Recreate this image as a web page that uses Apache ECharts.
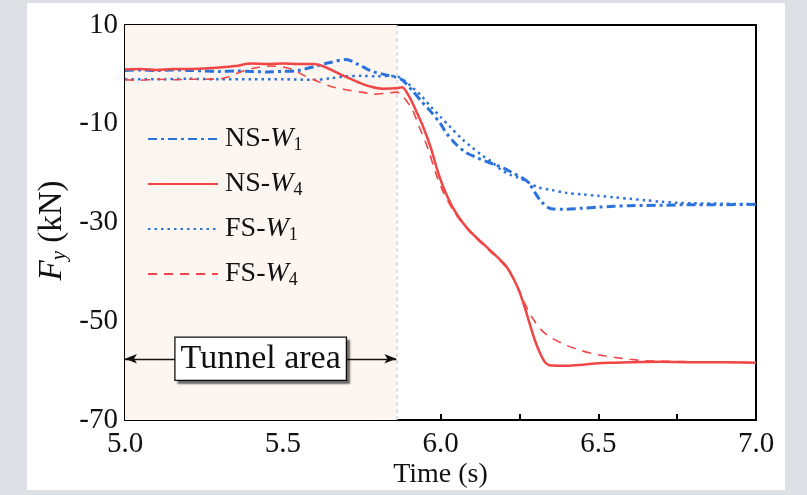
<!DOCTYPE html>
<html><head><meta charset="utf-8">
<script src="https://cdn.jsdelivr.net/npm/echarts/dist/echarts.min.js"></script>
<style>html,body{margin:0;padding:0;background:#dde1e5}#c{width:807px;height:495px}</style>
</head><body><div id="c"></div>
<script>
// ---- data ----
const seriesNames = ['NS-W1', 'NS-W4', 'FS-W1', 'FS-W4'];
const xTicks = [5.0, 5.5, 6.0, 6.5, 7.0];
const yTicks = [-70, -50, -30, -10, 10];

const nsW1_t = [5.00,5.05,5.10,5.15,5.20,5.25,5.30,5.35,5.40,5.45,5.50,5.55,5.60,5.65,5.70,5.74,5.78,5.82,5.86,5.88,5.91,5.94,5.97,6.00,6.02,6.05,6.08,6.12,6.16,6.20,6.23,6.26,6.28,6.30,6.32,6.35,6.40,6.45,6.50,6.55,6.60,6.70,6.80,6.90,7.00];
const nsW1_v = [0.8,0.9,0.8,0.9,0.8,0.7,0.6,0.7,0.6,0.5,0.6,0.8,1.6,2.4,3.0,2.0,0.7,0.0,-0.6,-1.2,-3.2,-5.5,-7.6,-10.0,-12.0,-14.2,-15.8,-17.0,-18.0,-19.0,-20.0,-21.0,-22.0,-24.0,-25.8,-27.2,-27.3,-27.1,-26.9,-26.7,-26.6,-26.5,-26.4,-26.4,-26.3];

const nsW4_t = [5.00,5.05,5.10,5.15,5.20,5.25,5.30,5.35,5.40,5.45,5.50,5.55,5.60,5.63,5.67,5.70,5.74,5.78,5.82,5.86,5.878,5.90,5.92,5.945,5.97,5.99,6.01,6.04,6.07,6.10,6.13,6.16,6.19,6.21,6.23,6.25,6.27,6.285,6.30,6.315,6.33,6.345,6.40,6.45,6.50,6.55,6.60,6.70,6.80,6.90,7.00];
const nsW4_v = [1.0,1.1,0.9,1.1,1.1,1.2,1.4,1.7,2.2,2.1,2.2,2.1,2.1,1.6,0.4,-0.5,-1.6,-2.5,-2.9,-2.8,-2.6,-4.4,-7.0,-10.6,-15.0,-19.4,-23.0,-27.1,-30.0,-32.2,-34.0,-35.8,-37.6,-39.0,-41.2,-44.0,-47.8,-51.0,-54.0,-56.4,-58.2,-58.9,-59.0,-58.8,-58.5,-58.4,-58.3,-58.2,-58.3,-58.3,-58.4];

const fsW1_t = [5.00,5.10,5.20,5.30,5.40,5.50,5.60,5.65,5.70,5.75,5.80,5.84,5.87,5.89,5.91,5.94,5.97,6.00,6.03,6.07,6.10,6.13,6.16,6.19,6.22,6.25,6.28,6.31,6.35,6.40,6.45,6.50,6.55,6.60,6.65,6.70,6.75,6.80,6.90,7.00];
const fsW1_v = [-1.0,-1.0,-0.9,-1.0,-1.0,-1.0,-1.1,-0.8,-0.4,-0.3,-0.4,-0.3,-0.6,-1.5,-2.6,-4.4,-6.6,-8.6,-10.6,-13.2,-14.8,-16.3,-17.6,-19.2,-20.3,-21.0,-21.9,-22.9,-23.4,-24.0,-24.3,-24.6,-24.9,-25.2,-25.5,-25.8,-26.0,-26.1,-26.2,-26.3];

const fsW4_t = [5.00,5.05,5.10,5.15,5.20,5.25,5.30,5.33,5.37,5.42,5.46,5.50,5.53,5.57,5.61,5.65,5.70,5.75,5.79,5.83,5.86,5.875,5.89,5.91,5.935,5.96,5.985,6.01,6.04,6.07,6.10,6.13,6.16,6.19,6.21,6.23,6.25,6.27,6.29,6.32,6.35,6.40,6.45,6.50,6.55,6.60,6.65,6.70,6.80,6.90,7.00];
const fsW4_v = [-1.1,-1.2,-1.0,-1.1,-1.0,-1.0,-0.9,-0.5,0.6,1.4,1.7,1.5,1.0,-0.3,-1.4,-2.4,-3.1,-3.6,-4.0,-3.8,-3.6,-4.0,-5.2,-7.0,-11.0,-15.0,-20.0,-24.0,-27.5,-30.2,-32.4,-34.2,-36.0,-37.8,-39.2,-41.3,-43.8,-46.8,-49.2,-51.8,-53.3,-54.9,-56.0,-56.8,-57.3,-57.7,-58.0,-58.1,-58.2,-58.3,-58.4];

const tunnelRange = [5.0, 5.86];
const tunnelArrowY = -57.6;
const tunnelLabelX = 5.43;
const tunnelLabel = 'Tunnel area';

// ---- chart ----
const zip = (t, v) => t.map((x, i) => [x, v[i]]);
const FONT = 'Liberation Serif, Times New Roman, serif';
const BLUE = '#2c72dc', RED = '#f04646';

const chart = echarts.init(document.getElementById('c'), null, {renderer: 'canvas'});
const legendRich = {
  n: {fontFamily: FONT, fontSize: 28, color: '#111', lineHeight: 30, padding: [0, 0, 0, 2]},
  i: {fontFamily: FONT, fontSize: 28, color: '#111', fontStyle: 'italic', lineHeight: 30},
  s: {fontFamily: FONT, fontSize: 18, color: '#111', lineHeight: 10, verticalAlign: 'bottom'}
};
chart.setOption({
  backgroundColor: '#dde1e5',
  animation: false,
  graphic: [
    {type: 'rect', z: -100, shape: {x: 27, y: 3, width: 758, height: 487}, style: {fill: '#ffffff'}}
  ],
  grid: {left: 125, right: 51, top: 25, bottom: 75, show: true, borderColor: '#000', borderWidth: 2,
    backgroundColor: 'transparent', containLabel: false, outerBoundsMode: 'none'},
  legend: {
    orient: 'vertical', left: 147, top: 125, padding: 0, itemWidth: 70, itemHeight: 14, itemGap: 16,
    data: seriesNames,
    itemStyle: {color: 'transparent', borderColor: 'transparent', borderWidth: 0, opacity: 0},
    formatter: name => { const p = name.split('-'); return '{n|' + p[0] + '-}{i|' + p[1][0] + '}{s|' + p[1].slice(1) + '}'; },
    textStyle: {rich: legendRich}
  },
  xAxis: {
    type: 'value', min: xTicks[0], max: xTicks[xTicks.length - 1], interval: 0.5,
    name: 'Time (s)', nameLocation: 'middle', nameGap: 41, nameMoveOverlap: false,
    nameTextStyle: {fontFamily: FONT, fontSize: 28, color: '#111'},
    axisLine: {show: true, onZero: false, lineStyle: {color: '#000', width: 2}},
    axisTick: {show: true, inside: true, length: 6, lineStyle: {color: '#000', width: 2}},
    minorTick: {show: true, splitNumber: 2, length: 6, lineStyle: {color: '#000', width: 2}},
    splitLine: {show: false},
    axisLabel: {fontFamily: FONT, fontSize: 29, color: '#111', margin: 10, showMinLabel: true, showMaxLabel: true,
      formatter: v => xTicks.some(t => Math.abs(t - v) < 1e-6) ? v.toFixed(1) : ''}
  },
  yAxis: {
    type: 'value', min: yTicks[0], max: yTicks[yTicks.length - 1], interval: 10,
    name: '{i|F}{s|y}{n| (kN)}', nameLocation: 'middle', nameRotate: 90, nameGap: 55, nameMoveOverlap: false,
    nameTextStyle: {padding: [0, 16, 0, 0], rich: {
      i: {fontFamily: FONT, fontSize: 33, color: '#111', fontStyle: 'italic', lineHeight: 36},
      s: {fontFamily: FONT, fontSize: 21, color: '#111', fontStyle: 'italic', lineHeight: 12, verticalAlign: 'bottom'},
      n: {fontFamily: FONT, fontSize: 33, color: '#111', lineHeight: 36}
    }},
    axisLine: {show: true, onZero: false, lineStyle: {color: '#000', width: 2}},
    axisTick: {show: true, inside: true, length: 6, lineStyle: {color: '#000', width: 2}},
    splitLine: {show: false},
    axisLabel: {fontFamily: FONT, fontSize: 29, color: '#111', margin: 7, showMinLabel: true, showMaxLabel: true,
      formatter: v => yTicks.indexOf(v) >= 0 ? String(v) : ''}
  },
  series: [
    {
      name: 'annot', type: 'line', data: [], z: 1, silent: true,
      markArea: {silent: true, itemStyle: {color: '#fdf6f0'}, data: [[{xAxis: tunnelRange[0]}, {xAxis: tunnelRange[1]}]]},
      markLine: {silent: true, animation: false, data: [
        [{coord: [tunnelRange[1], yTicks[0]], symbol: 'none', lineStyle: {color: '#d6d6d6', type: [4, 3], width: 1.5}},
         {coord: [tunnelRange[1], yTicks[yTicks.length - 1]], symbol: 'none'}],
        [{coord: [tunnelRange[0], tunnelArrowY], symbol: 'arrow', symbolSize: [7, 12], lineStyle: {color: '#111', type: 'solid', width: 1.3}},
         {coord: [tunnelRange[1], tunnelArrowY], symbol: 'arrow', symbolSize: [7, 12]}]
      ], label: {show: false}, itemStyle: {color: '#111'}},
      markPoint: {silent: true, symbol: 'rect', symbolSize: 0, data: [{coord: [tunnelLabelX, tunnelArrowY]}],
        label: {show: true, position: 'inside', formatter: tunnelLabel, fontFamily: FONT, fontSize: 34, color: '#111',
          backgroundColor: '#fff', borderColor: '#111', borderWidth: 1.3, padding: [5, 5, 3, 5],
          shadowColor: 'rgba(0,0,0,0.45)', shadowOffsetX: 3, shadowOffsetY: 3, shadowBlur: 2}}
    },
    {name: 'NS-W1', type: 'line', z: 4, showSymbol: false, symbol: 'none', smooth: 0.3, data: zip(nsW1_t, nsW1_v),
      itemStyle: {color: BLUE}, lineStyle: {color: BLUE, width: 3, type: [9, 4, 3, 4]}},
    {name: 'NS-W4', type: 'line', z: 5, showSymbol: false, symbol: 'none', smooth: 0.3, data: zip(nsW4_t, nsW4_v),
      itemStyle: {color: RED}, lineStyle: {color: RED, width: 2.5, type: 'solid'}},
    {name: 'FS-W1', type: 'line', z: 4, showSymbol: false, symbol: 'none', smooth: 0.3, data: zip(fsW1_t, fsW1_v),
      itemStyle: {color: BLUE}, lineStyle: {color: BLUE, width: 2.5, type: [2.5, 4]}},
    {name: 'FS-W4', type: 'line', z: 4, showSymbol: false, symbol: 'none', smooth: 0.3, data: zip(fsW4_t, fsW4_v),
      itemStyle: {color: RED}, lineStyle: {color: RED, width: 1.6, type: [9, 7]}}
  ]
});
</script></body></html>
